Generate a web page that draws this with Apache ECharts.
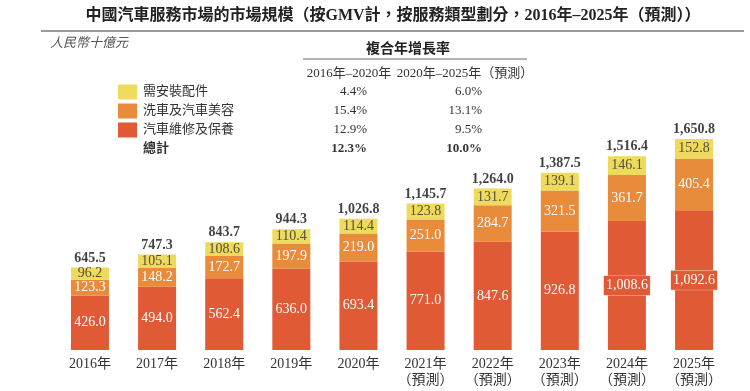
<!DOCTYPE html>
<html>
<head>
<meta charset="utf-8">
<script src="https://cdn.jsdelivr.net/npm/echarts@6/dist/echarts.min.js"></script>
<style>html,body{margin:0;padding:0;background:#fff;}#c{width:750px;height:391px;}</style>
</head>
<body>
<div id="c"></div>
<script>
const categories = ['2016年','2017年','2018年','2019年','2020年','2021年\n（預測）','2022年\n（預測）','2023年\n（預測）','2024年\n（預測）','2025年\n（預測）'];
const repair = [426.0,494.0,562.4,636.0,693.4,771.0,847.6,926.8,1008.6,1092.6];
const wash = [123.3,148.2,172.7,197.9,219.0,251.0,284.7,321.5,361.7,405.4];
const parts = [96.2,105.1,108.6,110.4,114.4,123.8,131.7,139.1,146.1,152.8];
const totals = [645.5,747.3,843.7,944.3,1026.8,1145.7,1264.0,1387.5,1516.4,1650.8];
const legendNames = ['需安裝配件','洗車及汽車美容','汽車維修及保養'];
const totalName = '總計';
const periods = ['2016年–2020年','2020年–2025年（預測）'];
const cagr1 = ['4.4%','15.4%','12.9%','12.3%'];
const cagr2 = ['6.0%','13.1%','9.5%','10.0%'];
const titleText = '中國汽車服務市場的市場規模（按GMV計，按服務類型劃分，2016年–2025年（預測））';
const unitText = '人民幣十億元';
const cagrTitle = '複合年增長率';

const FONT = '"Liberation Serif", "Noto Sans CJK TC", serif';
const C_YEL = '#EEDA5C', C_ORG = '#E88B3A', C_RED = '#E05A36';
const colors = [C_YEL, C_ORG, C_RED];
const fmt = v => v.toLocaleString('en-US',{minimumFractionDigits:1,maximumFractionDigits:1});

const chart = echarts.init(document.getElementById('c'), null, {renderer:'canvas'});

const graphics = [];
graphics.push({type:'text', style:{text:titleText, x:393, y:16, textAlign:'center', textVerticalAlign:'middle', font:'bold 16px ' + FONT, fill:'#222'}});
graphics.push({type:'line', shape:{x1:41,y1:31,x2:744,y2:31}, style:{stroke:'#9a9a9a', lineWidth:2}});
graphics.push({type:'text', style:{text:unitText, x:50, y:44, textAlign:'left', textVerticalAlign:'middle', font:'italic 13px ' + FONT, fill:'#555'}});
graphics.push({type:'text', style:{text:cagrTitle, x:408, y:49, textAlign:'center', textVerticalAlign:'middle', font:'bold 14px ' + FONT, fill:'#222'}});
graphics.push({type:'line', shape:{x1:303,y1:59,x2:527,y2:59}, style:{stroke:'#999', lineWidth:1.5}});
graphics.push({type:'text', style:{text:periods[0], x:349, y:74, textAlign:'center', textVerticalAlign:'middle', font:'13px ' + FONT, fill:'#333'}});
graphics.push({type:'text', style:{text:periods[1], x:465, y:74, textAlign:'center', textVerticalAlign:'middle', font:'13px ' + FONT, fill:'#333'}});
const rowY = [92, 111, 130, 149];
for (let i = 0; i < 4; i++) {
  const bold = i === 3;
  if (!bold) {
    graphics.push({type:'rect', shape:{x:118, y:rowY[i]-7.5, width:19, height:15}, style:{fill:colors[i]}});
  }
  graphics.push({type:'text', style:{text: bold ? totalName : legendNames[i], x:143, y:rowY[i], textAlign:'left', textVerticalAlign:'middle', font:(bold?'bold ':'') + '13px ' + FONT, fill:'#333'}});
  graphics.push({type:'text', style:{text:cagr1[i], x:367, y:rowY[i], textAlign:'right', textVerticalAlign:'middle', font:(bold?'bold ':'') + '13px ' + FONT, fill:'#333'}});
  graphics.push({type:'text', style:{text:cagr2[i], x:482, y:rowY[i], textAlign:'right', textVerticalAlign:'middle', font:(bold?'bold ':'') + '13px ' + FONT, fill:'#333'}});
}

const segLabel = (color) => ({show:true, position:'inside', color:color, fontFamily:FONT, fontSize:14, formatter: p => fmt(p.value)});

chart.setOption({
  animation:false,
  grid:{left:56.4, right:22.4, top:94.4, bottom:41},
  xAxis:{type:'category', data:categories, axisLine:{show:false}, axisTick:{show:false},
    axisLabel:{interval:0, color:'#333', fontFamily:FONT, fontSize:14, lineHeight:16, margin:6}},
  yAxis:{type:'value', min:0, max:2000, show:false, splitLine:{show:false}},
  graphic:graphics,
  series:[
    {name:legendNames[2], type:'bar', stack:'t', barWidth:38, itemStyle:{color:C_RED},
      data: repair.map(v => v >= 1000 ? {value:v, label:{backgroundColor:C_RED, padding:[3,2,2,2], borderColor:'#f3c7b8', borderWidth:0.5}} : v),
      label:segLabel('#fff')},
    {name:legendNames[1], type:'bar', stack:'t', barWidth:38, itemStyle:{color:C_ORG}, data:wash, label:segLabel('#fff')},
    {name:legendNames[0], type:'bar', stack:'t', barWidth:38, itemStyle:{color:C_YEL}, data:parts, label:segLabel('#55503a')},
    {name:totalName, type:'scatter', data:totals, symbolSize:1, itemStyle:{color:'rgba(0,0,0,0)'},
      label:{show:true, position:'top', distance:2, color:'#111', fontFamily:FONT, fontSize:14, fontWeight:'bold', formatter: p => fmt(p.value)}}
  ]
});
</script>
</body>
</html>
